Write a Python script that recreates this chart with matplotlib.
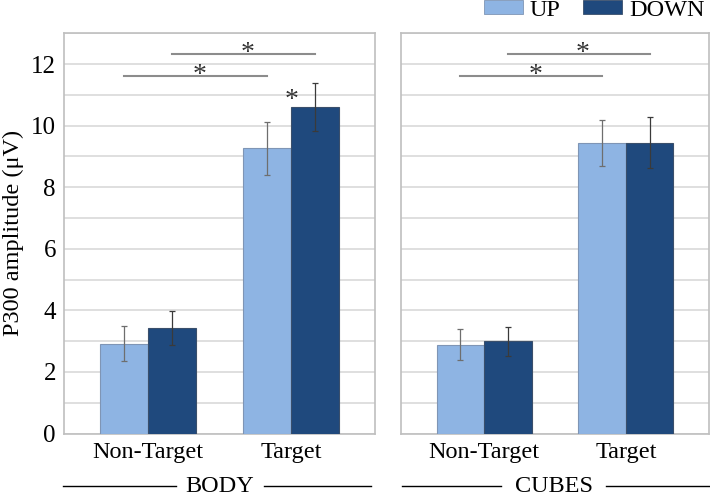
import matplotlib
matplotlib.use("Agg")
import matplotlib.pyplot as plt
from matplotlib.lines import Line2D
from matplotlib.patches import Patch

plt.rcParams['font.family'] = ['Liberation Serif', 'DejaVu Serif']

# Data
conditions = ["Non-Target", "Target"]
groups = ["BODY", "CUBES"]
series = ["UP", "DOWN"]
body_up = [2.92, 9.27]
body_down = [3.43, 10.61]
body_up_err = [0.57, 0.86]
body_down_err = [0.55, 0.79]
cubes_up = [2.89, 9.44]
cubes_down = [3.00, 9.44]
cubes_up_err = [0.50, 0.74]
cubes_down_err = [0.47, 0.83]
yticks = [0, 2, 4, 6, 8, 10, 12]
ylabel = "P300 amplitude (μV)"

col_up = "#8EB4E3"
col_down = "#1F497D"
grid_col = "#D9D9D9"
frame_col = "#BFBFBF"
FS = 17.5
STAR = 20

fig = plt.figure(figsize=(7.1, 4.95), dpi=100)
ax_l = fig.add_axes([0.0906, 0.1242, 0.4376, 0.8085])
ax_r = fig.add_axes([0.5648, 0.1242, 0.4338, 0.8085])

w = 0.336
panels = [
    (ax_l, body_up, body_down, body_up_err, body_down_err),
    (ax_r, cubes_up, cubes_down, cubes_up_err, cubes_down_err),
]
for ax, up, down, ue, de in panels:
    xs = list(range(len(conditions)))
    ax.bar([x - w / 2 for x in xs], up, w, color=col_up, edgecolor="#7F95B5",
           linewidth=0.8, zorder=3)
    ax.bar([x + w / 2 for x in xs], down, w, color=col_down, edgecolor="#3A4F6B",
           linewidth=0.8, zorder=3)
    ax.errorbar([x - w / 2 for x in xs], up, yerr=ue, fmt="none", ecolor="#6E6E6E",
                elinewidth=0.9, capsize=2, capthick=0.9, zorder=4)
    ax.errorbar([x + w / 2 for x in xs], down, yerr=de, fmt="none", ecolor="#3A3A3A",
                elinewidth=0.9, capsize=2, capthick=0.9, zorder=4)
    ax.set_xlim(-0.587, 1.587)
    ax.set_ylim(0, 13)
    ax.set_yticks(range(0, 14))
    ax.yaxis.grid(True, color=grid_col, linewidth=1.2, zorder=0)
    ax.set_axisbelow(True)
    for s in ax.spines.values():
        s.set_color(frame_col)
        s.set_linewidth(1.2)
    ax.set_xticks(xs)
    ax.set_xticklabels(conditions, fontsize=FS)
    ax.tick_params(axis="both", length=0, pad=6)

    # significance brackets between categories
    y_low, y_high = 11.62, 12.33
    ax.plot([-w / 2, 1 - w / 2], [y_low, y_low], color="#8C8C8C", lw=1.5, zorder=5)
    ax.plot([w / 2, 1 + w / 2], [y_high, y_high], color="#8C8C8C", lw=1.5, zorder=5)
    ax.text(0.5 - w / 2 + 0.03, y_low - 0.2, "*", ha="center", va="baseline",
            fontsize=STAR, color="#333333")
    ax.text(0.5 + w / 2 + 0.03, y_high - 0.2, "*", ha="center", va="baseline",
            fontsize=STAR, color="#333333")

ax_l.set_yticklabels([str(v) if v in yticks else "" for v in range(0, 14)], fontsize=18)
ax_r.set_yticklabels([])
ax_l.set_ylabel(ylabel, fontsize=FS, labelpad=5)
ax_l.text(1.0, 10.62, "*", ha="center", va="baseline", fontsize=STAR, color="#333333")

# group labels beneath each panel
y_grp = 1 - 486 / 495
for name, (x0, xt0, xt1, x1) in zip(groups, [(63, 176, 264, 371), (402, 501, 606, 710)]):
    fig.add_artist(Line2D([x0 / 710, xt0 / 710], [y_grp, y_grp], color="black", lw=1.0))
    fig.add_artist(Line2D([xt1 / 710, x1 / 710], [y_grp, y_grp], color="black", lw=1.0))
    fig.text((xt0 + xt1) / 2 / 710, y_grp, name, ha="center", va="center", fontsize=FS)

handles = [Patch(facecolor=col_up, edgecolor="#7F95B5", linewidth=0.6),
           Patch(facecolor=col_down, edgecolor="#3A4F6B", linewidth=0.6)]
fig.legend(handles, series, loc="upper right", bbox_to_anchor=(0.992, 1.0), ncol=2,
           frameon=False, fontsize=FS, handlelength=1.6, handleheight=0.5,
           columnspacing=0.9, handletextpad=0.3, borderaxespad=0.0, borderpad=0.0)

fig.savefig("out.png", dpi=100)
